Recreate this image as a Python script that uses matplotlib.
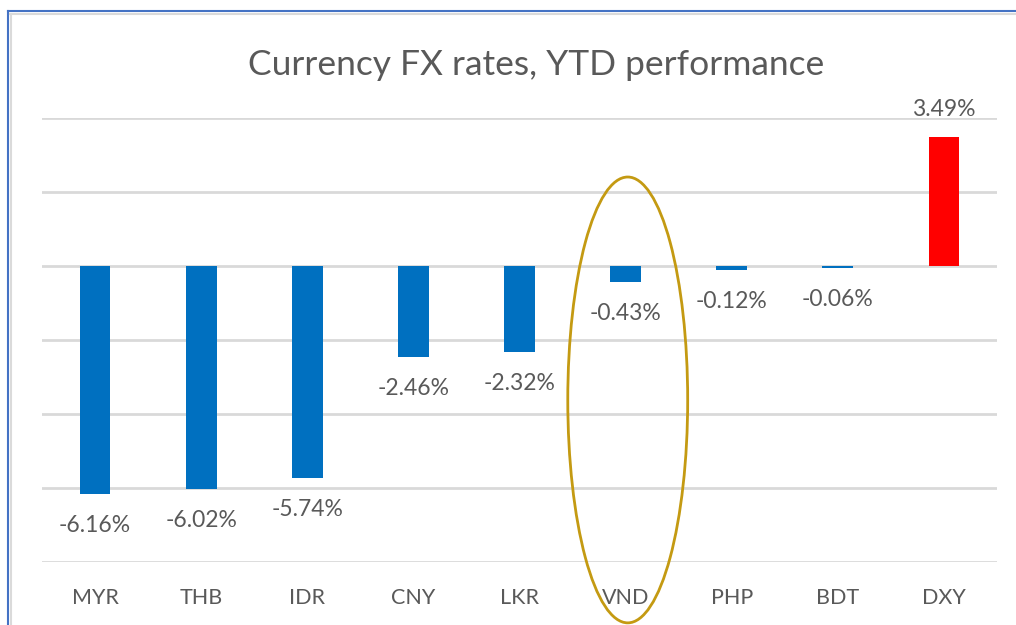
import matplotlib.pyplot as plt
from matplotlib.patches import Ellipse
from matplotlib.lines import Line2D

currencies = ['MYR', 'THB', 'IDR', 'CNY', 'LKR', 'VND', 'PHP', 'BDT', 'DXY']
ytd_change = [-6.16, -6.02, -5.74, -2.46, -2.32, -0.43, -0.12, -0.06, 3.49]
labels = ['-6.16%', '-6.02%', '-5.74%', '-2.46%', '-2.32%', '-0.43%', '-0.12%', '-0.06%', '3.49%']

TEXT = '#595959'
plt.rcParams['font.family'] = ['Lato', 'DejaVu Sans']

fig = plt.figure(figsize=(10.16, 6.25), dpi=100)
ax = fig.add_axes([42 / 1016, 1 - 562 / 625, 955 / 1016, 444 / 625])

colors = ['#FF0000' if v > 0 else '#0070C0' for v in ytd_change]
x = list(range(len(currencies)))
ax.bar(x, ytd_change, width=0.29, color=colors, zorder=3)

for xi, v, lab in zip(x, ytd_change, labels):
    off = 12 if v > 0 else -15
    ax.annotate(lab, (xi, v), xytext=(0, off), textcoords='offset points',
                ha='center', va='bottom' if v > 0 else 'top',
                fontsize=16.5, color=TEXT)

ax.set_xlim(-0.5, len(currencies) - 0.5)
ax.set_ylim(-8, 4)
ax.set_yticks([-8, -6, -4, -2, 0, 2, 4])
ax.set_yticklabels([])
ax.tick_params(axis='y', length=0)
ax.grid(axis='y', color='#D9D9D9', linewidth=2, zorder=0)
ax.set_xticks(x)
ax.set_xticklabels(currencies, fontsize=15.5, color=TEXT)
ax.tick_params(axis='x', length=0, pad=19)
for s in ax.spines.values():
    s.set_visible(False)

# highlight VND
ax.add_patch(Ellipse((5.02, -3.62), 1.13, 12.05, fill=False,
                     edgecolor='#C49A12', linewidth=2, clip_on=False, zorder=4))

fig.text(0.528, 1 - 65 / 625, 'Currency FX rates, YTD performance',
         ha='center', va='center', fontsize=25.5, color=TEXT)

# chart frame
fig.add_artist(Line2D([8 / 1016, 1], [1 - 11 / 625] * 2, color='#4472C4', linewidth=1.5))
fig.add_artist(Line2D([8 / 1016] * 2, [0, 1 - 11 / 625], color='#4472C4', linewidth=1.5))
fig.add_artist(Line2D([10 / 1016, 1], [1 - 14 / 625] * 2, color='#DADADA', linewidth=1.5))
fig.add_artist(Line2D([11 / 1016] * 2, [0, 1 - 14 / 625], color='#DADADA', linewidth=1.5))

fig.savefig('out.png', dpi=100)
